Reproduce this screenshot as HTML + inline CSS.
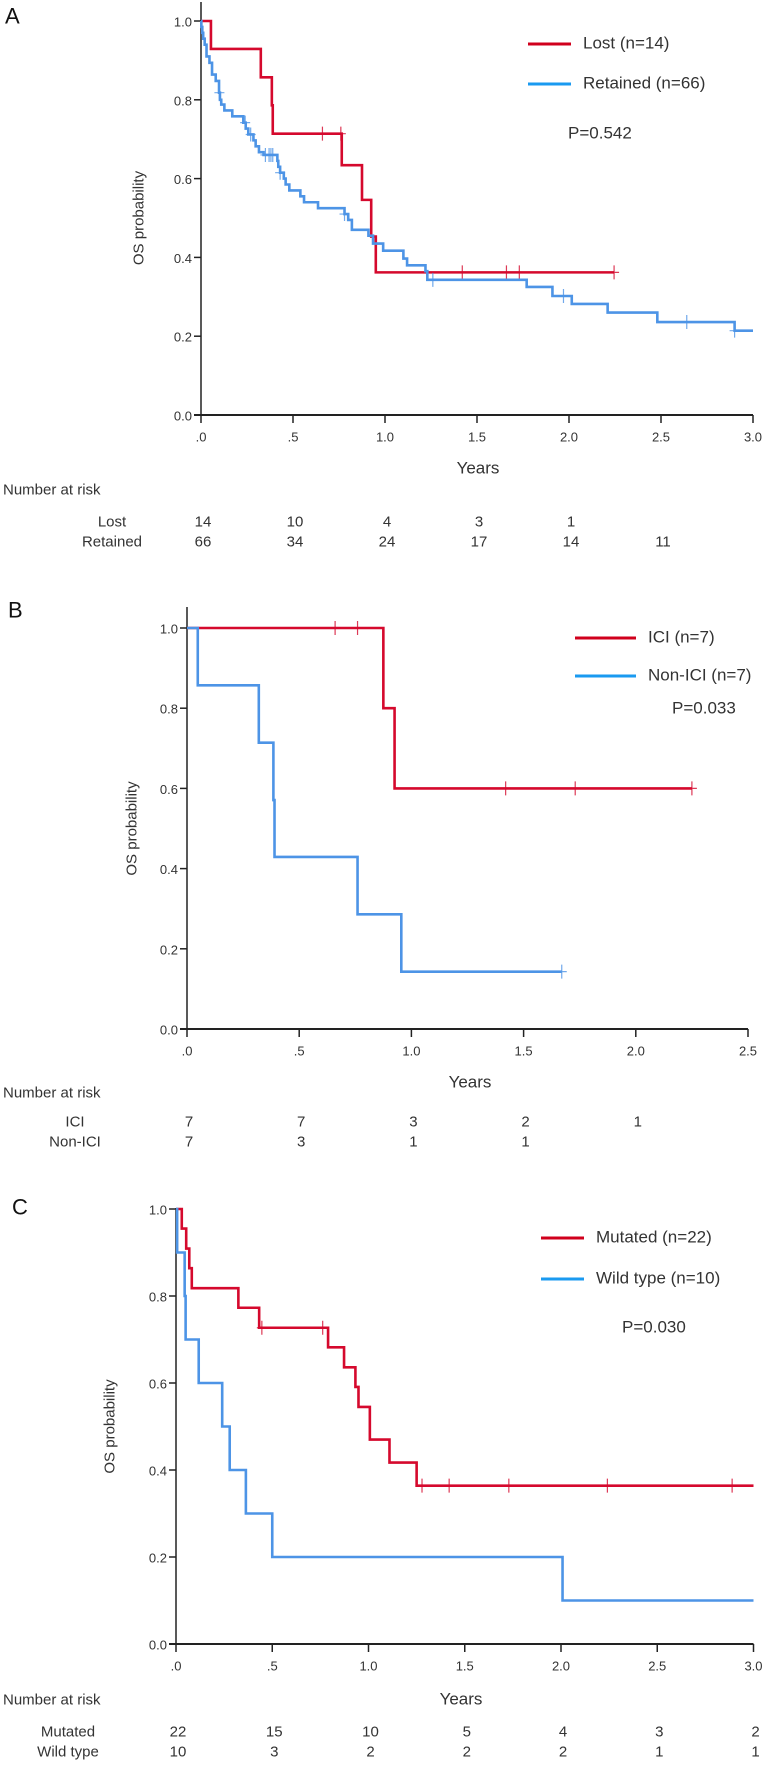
<!DOCTYPE html>
<html><head><meta charset="utf-8">
<style>
html,body{margin:0;padding:0;background:#fff;}
svg{display:block;font-family:"Liberation Sans",sans-serif;}
</style></head>
<body>
<svg id="fig" width="766" height="1771" viewBox="0 0 766 1771" xmlns="http://www.w3.org/2000/svg"></svg>
<script>
// ---------- Panel A data ----------
const aTicksX = [0,0.5,1,1.5,2,2.5,3];
const aTickLabelsX = [".0",".5","1.0","1.5","2.0","2.5","3.0"];
const lostTimes = [0.054,0.325,0.385,0.39,0.765,0.875,0.925,0.95];
const lostSurv  = [0.929,0.857,0.786,0.714,0.634,0.546,0.453,0.362];
const lostCensor = [0.66,0.76,1.42,1.66,1.73];
const lostEnd = 2.245;
const retTimes = [0.002,0.007,0.012,0.02,0.03,0.046,0.06,0.08,0.098,0.103,0.11,0.127,0.17,0.23,0.243,0.257,0.285,0.297,0.315,0.34,0.415,0.42,0.43,0.45,0.46,0.48,0.54,0.56,0.636,0.78,0.80,0.82,0.91,0.935,0.99,1.10,1.12,1.22,1.23,1.77,1.91,2.015,2.21,2.48,2.90];
const retSurv  = [0.985,0.97,0.955,0.94,0.91,0.894,0.864,0.848,0.818,0.80,0.788,0.773,0.758,0.742,0.727,0.712,0.697,0.682,0.667,0.66,0.645,0.63,0.615,0.60,0.585,0.57,0.555,0.54,0.525,0.51,0.495,0.47,0.455,0.435,0.417,0.397,0.38,0.365,0.343,0.325,0.302,0.282,0.26,0.236,0.214];
const retCensor = [0.10,0.24,0.27,0.35,0.37,0.38,0.39,0.43,0.78,1.26,1.97,2.64,2.90];
const retEnd = 3.0;
const aRiskLost = ["14","10","4","3","1"];
const aRiskRet = ["66","34","24","17","14","11"];

// ---------- Panel B data ----------
const bTicksX = [0,0.5,1,1.5,2,2.5];
const bTickLabelsX = [".0",".5","1.0","1.5","2.0","2.5"];
const iciTimes = [0.875,0.925];
const iciSurv  = [0.8,0.6];
const iciCensor = [0.66,0.76,1.42,1.73];
const iciEnd = 2.25;
const nonTimes = [0.048,0.32,0.385,0.39,0.76,0.955];
const nonSurv  = [0.857,0.714,0.571,0.429,0.286,0.143];
const nonCensor = [];
const nonEnd = 1.67;
const bRiskIci = ["7","7","3","2","1"];
const bRiskNon = ["7","3","1","1"];

// ---------- Panel C data ----------
const cTicksX = [0,0.5,1,1.5,2,2.5,3];
const cTickLabelsX = [".0",".5","1.0","1.5","2.0","2.5","3.0"];
const mutTimes = [0.03,0.053,0.069,0.082,0.324,0.432,0.79,0.873,0.932,0.948,1.007,1.109,1.25];
const mutSurv  = [0.955,0.909,0.864,0.818,0.773,0.727,0.682,0.636,0.591,0.545,0.47,0.417,0.364];
const mutCensor = [0.446,0.762,1.278,1.419,1.729,2.241,2.889];
const mutEnd = 3.0;
const wtTimes = [0.006,0.045,0.05,0.118,0.24,0.279,0.363,0.5,2.008];
const wtSurv  = [0.9,0.8,0.7,0.6,0.5,0.4,0.3,0.2,0.1];
const wtCensor = [];
const wtEnd = 3.0;
const cRiskMut = ["22","15","10","5","4","3","2"];
const cRiskWt = ["10","3","2","2","2","1","1"];

const yTicks = [0,0.2,0.4,0.6,0.8,1.0];
const yTickLabels = ["0.0","0.2","0.4","0.6","0.8","1.0"];

const NS="http://www.w3.org/2000/svg";
const svg=document.getElementById('fig');
const RED="#d5092d", BLUE="#4d94e6", REDL="#d0001c", BLUEL="#1a9af0", TXT="#333";

function mk(tag,attrs,parent){const e=document.createElementNS(NS,tag);for(const k in attrs)e.setAttribute(k,attrs[k]);(parent||svg).appendChild(e);return e;}
function txt(s,x,y,size,anchor,parent,extra){const t=mk('text',Object.assign({x:x,y:y,'font-size':size,'text-anchor':anchor||'start','dominant-baseline':'central',fill:TXT},extra||{}),parent);t.textContent=s;return t;}

function panel(p){
  const g=mk('g',{});
  
  
  const sx=t=>p.x0+t*p.pxYear, sy=v=>p.y0-v*(p.y0-p.y1);
  const lab=txt(p.letter,p.letterX,p.letterY,22,'start',g,{fill:'#111'});
  
  
  const ax=mk('g',{},g);
  
  
  mk('line',{x1:p.x0,y1:p.axTop,x2:p.x0,y2:p.y0,stroke:'#222','stroke-width':1.5},ax);
  const xEnd=sx(p.ticksX[p.ticksX.length-1]);
  mk('line',{x1:p.x0-7,y1:p.y0,x2:xEnd,y2:p.y0,stroke:'#222','stroke-width':2},ax);
  yTicks.forEach((v,i)=>{
    mk('line',{x1:p.x0-7,y1:sy(v),x2:p.x0,y2:sy(v),stroke:'#222','stroke-width':1.5},ax);
    const t=txt(yTickLabels[i],p.x0-9,sy(v)+1,13,'end',ax);
    
    
  });
  p.ticksX.forEach((v,i)=>{
    mk('line',{x1:sx(v),y1:p.y0,x2:sx(v),y2:p.y0+8,stroke:'#222','stroke-width':1.5},ax);
    const t=txt(p.tickLabelsX[i],sx(v),p.y0+22,13,'middle',ax);
    
    
  });
  const yt=txt('OS probability',0,0,15,'middle',ax,{transform:`translate(${p.yTitleX},${(p.y0+p.y1)/2}) rotate(-90)`});
  
  
  const xt=txt('Years',p.yearsX,p.yearsY,17,'middle',ax);
  
  
  p.series.forEach(s=>{
    let d=`M${p.x0},${sy(1)}`;
    s.times.forEach((t,i)=>{d+=` H${sx(t)} V${sy(s.surv[i])}`;});
    d+=` H${sx(s.end)}`;
    const path=mk('path',{d:d,fill:'none',stroke:s.color,'stroke-width':2.6},g);
    
    
    const cens=s.endMark?s.censor.concat([s.end]):s.censor;
    cens.forEach(c=>{
      let v=1;s.times.forEach((t,i)=>{if(t<=c)v=s.surv[i];});
      const m=mk('path',{d:`M${sx(c)},${sy(v)-7} V${sy(v)+7} M${sx(c)-5},${sy(v)} H${sx(c)+5}`,stroke:s.color,'stroke-width':1.2,opacity:0.8,fill:'none'},g);
      
      
    });
  });
  p.series.forEach((s,i)=>{
    const lg=mk('g',{},g);
    
    
    const ly=p.legY[i];
    mk('line',{x1:p.legX,y1:ly,x2:p.legX+p.legW,y2:ly,stroke:s.lcolor,'stroke-width':3},lg);
    txt(s.label,p.legX+p.legW+12,ly-1,17,'start',lg);
  });
  const pv=txt(p.pText,p.pX,p.pY,17,'start',g);
  
  
  const rt=mk('g',{},g);
  
  
  txt('Number at risk',3,p.riskTitleY,15,'start',rt);
  p.risk.forEach((r,ri)=>{
    txt(r.label,p.riskLabelX,p.riskY[ri],15,'middle',rt);
    r.vals.forEach((v,i)=>{txt(v,sx(p.ticksX[i])+2,p.riskY[ri],15,'middle',rt);});
  });
}

panel({name:'panel-a',letter:'A',letterX:5,letterY:16,x0:201,y0:415,y1:21,axTop:2,pxYear:184,
  ticksX:aTicksX,tickLabelsX:aTickLabelsX,yTitleX:139,yearsX:478,yearsY:468,
  series:[{id:'lost',label:'Lost (n=14)',times:lostTimes,surv:lostSurv,censor:lostCensor,end:lostEnd,endMark:true,color:RED,lcolor:REDL},
          {id:'retained',label:'Retained (n=66)',times:retTimes,surv:retSurv,censor:retCensor,end:retEnd,endMark:false,color:BLUE,lcolor:BLUEL}],
  legX:528,legW:43,legY:[44,84],pText:'P=0.542',pX:568,pY:133,
  riskTitleY:490,riskLabelX:112,riskY:[522,542],
  risk:[{label:'Lost',vals:aRiskLost},{label:'Retained',vals:aRiskRet}]});

panel({name:'panel-b',letter:'B',letterX:8,letterY:610,x0:187,y0:1029,y1:628,axTop:607,pxYear:224.4,
  ticksX:bTicksX,tickLabelsX:bTickLabelsX,yTitleX:132,yearsX:470,yearsY:1082,
  series:[{id:'ici',label:'ICI (n=7)',times:iciTimes,surv:iciSurv,censor:iciCensor,end:iciEnd,endMark:true,color:RED,lcolor:REDL},
          {id:'non-ici',label:'Non-ICI (n=7)',times:nonTimes,surv:nonSurv,censor:nonCensor,end:nonEnd,endMark:true,color:BLUE,lcolor:BLUEL}],
  legX:575,legW:61,legY:[638,676],pText:'P=0.033',pX:672,pY:708,
  riskTitleY:1093,riskLabelX:75,riskY:[1122,1142],
  risk:[{label:'ICI',vals:bRiskIci},{label:'Non-ICI',vals:bRiskNon}]});

panel({name:'panel-c',letter:'C',letterX:12,letterY:1207,x0:176,y0:1644,y1:1209,axTop:1208,pxYear:192.5,
  ticksX:cTicksX,tickLabelsX:cTickLabelsX,yTitleX:110,yearsX:461,yearsY:1699,
  series:[{id:'mutated',label:'Mutated (n=22)',times:mutTimes,surv:mutSurv,censor:mutCensor,end:mutEnd,endMark:false,color:RED,lcolor:REDL},
          {id:'wild-type',label:'Wild type (n=10)',times:wtTimes,surv:wtSurv,censor:wtCensor,end:wtEnd,endMark:false,color:BLUE,lcolor:BLUEL}],
  legX:541,legW:43,legY:[1238,1279],pText:'P=0.030',pX:622,pY:1327,
  riskTitleY:1700,riskLabelX:68,riskY:[1732,1752],
  risk:[{label:'Mutated',vals:cRiskMut},{label:'Wild type',vals:cRiskWt}]});
</script>
</body></html>
